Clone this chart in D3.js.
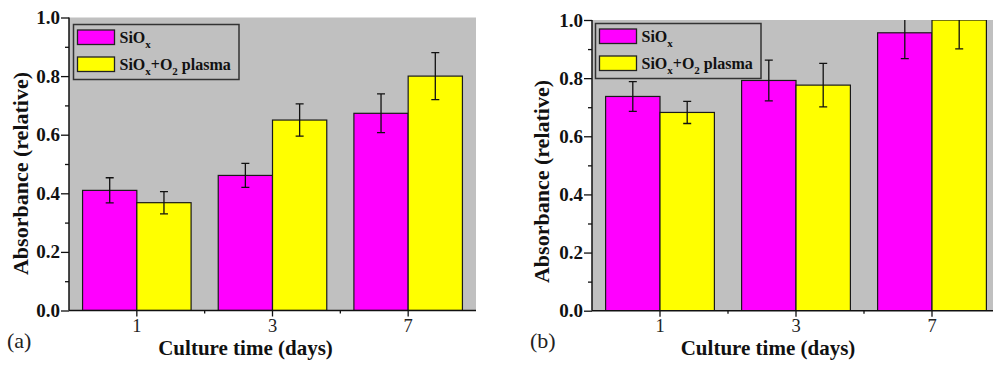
<!DOCTYPE html>
<html>
<head>
<meta charset="utf-8">
<script src="https://cdn.jsdelivr.net/npm/d3@7"></script>
<style>
  html, body { margin: 0; padding: 0; background: #fff; overflow: hidden; }
  svg { display: block; }
</style>
</head>
<body>
<svg id="chart" width="993" height="365"></svg>
<script>
// ---- data ----
const categories = ["1", "3", "7"];
const seriesNames = ["SiOx", "SiOx+O2 plasma"];
const seriesColors = ["#ff00ff", "#ffff00"];
const yTickValues = [0.0, 0.2, 0.4, 0.6, 0.8, 1.0];
const yMinorTickValues = [0.1, 0.3, 0.5, 0.7, 0.9];

const panelA_SiOx = [0.410, 0.461, 0.673];
const panelA_SiOx_err = [0.043, 0.041, 0.066];
const panelA_plasma = [0.368, 0.650, 0.800];
const panelA_plasma_err = [0.038, 0.055, 0.080];

const panelB_SiOx = [0.737, 0.792, 0.956];
const panelB_SiOx_err = [0.051, 0.070, 0.089];
const panelB_plasma = [0.682, 0.776, 1.000];
const panelB_plasma_err = [0.038, 0.075, 0.099];

const svg = d3.select("#chart");
const serif = "'Liberation Serif', 'DejaVu Serif', serif";

function drawPanel(cfg, id) {
  const g = svg.append("g");
  const x = d3.scaleBand().domain(categories).range([cfg.left, cfg.right]).paddingInner(0).paddingOuter(0);
  const y = d3.scaleLinear().domain([0, 1]).range([cfg.bottom, cfg.top]);

  const clipId = "clip" + id;
  svg.append("clipPath").attr("id", clipId).append("rect")
    .attr("x", cfg.left).attr("y", cfg.top)
    .attr("width", cfg.right - cfg.left).attr("height", cfg.bottom - cfg.top);

  // background
  g.append("rect").attr("x", cfg.left).attr("y", cfg.top)
    .attr("width", cfg.right - cfg.left).attr("height", cfg.bottom - cfg.top)
    .attr("fill", "#c0c0c0");

  const inner = d3.scaleBand().domain([0, 1]).range([0, x.bandwidth()]).paddingOuter(0.25).paddingInner(0);
  const series = [cfg.s1, cfg.s2];
  const errs = [cfg.e1, cfg.e2];

  const plot = g.append("g").attr("clip-path", `url(#${clipId})`);
  series.forEach((vals, si) => {
    plot.selectAll(null).data(categories).enter().append("rect")
      .attr("x", (c) => x(c) + inner(si))
      .attr("y", (c, i) => y(vals[i]))
      .attr("width", inner.bandwidth())
      .attr("height", (c, i) => y(0) - y(vals[i]))
      .attr("fill", seriesColors[si])
      .attr("stroke", "#1a1a1a")
      .attr("stroke-width", 1.2);
  });
  series.forEach((vals, si) => {
    categories.forEach((c, i) => {
      const cx = x(c) + inner(si) + inner.bandwidth() / 2;
      const hi = y(vals[i] + errs[si][i]);
      const lo = y(vals[i] - errs[si][i]);
      const eb = plot.append("g").attr("stroke", "#111").attr("stroke-width", 1.3);
      eb.append("line").attr("x1", cx).attr("x2", cx).attr("y1", hi).attr("y2", lo);
      eb.append("line").attr("x1", cx - 4).attr("x2", cx + 4).attr("y1", hi).attr("y2", hi);
      eb.append("line").attr("x1", cx - 4).attr("x2", cx + 4).attr("y1", lo).attr("y2", lo);
    });
  });

  // y axis
  const yAxis = d3.axisLeft(y).tickValues(yTickValues).tickFormat(d3.format(".1f")).tickSize(8).tickPadding(1);
  const ya = g.append("g").attr("transform", `translate(${cfg.left},0)`).call(yAxis);
  ya.select(".domain").remove();
  ya.selectAll(".tick line").attr("stroke", "#111").attr("stroke-width", 1.3);
  ya.selectAll(".tick text").attr("font-family", serif).attr("font-weight", "bold")
    .attr("font-size", 19).attr("fill", "#111");
  const yMinor = d3.axisLeft(y).tickValues(yMinorTickValues).tickSize(4).tickFormat("");
  const ym = g.append("g").attr("transform", `translate(${cfg.left},0)`).call(yMinor);
  ym.select(".domain").remove();
  ym.selectAll(".tick line").attr("stroke", "#111").attr("stroke-width", 1.3);
  g.append("line").attr("x1", cfg.left).attr("x2", cfg.left).attr("y1", cfg.top).attr("y2", cfg.bottom)
    .attr("stroke", "#111").attr("stroke-width", 1.5);

  // x axis
  const xAxis = d3.axisBottom(x).tickSize(6).tickPadding(2);
  const xa = g.append("g").attr("transform", `translate(0,${cfg.bottom})`).call(xAxis);
  xa.select(".domain").remove();
  xa.selectAll(".tick line").attr("stroke", "#111").attr("stroke-width", 1.3);
  xa.selectAll(".tick text").attr("font-family", serif).attr("font-size", 18.5).attr("fill", "#222");
  // minor x ticks at band boundaries
  const boundaries = categories.slice(1).map((c) => x(c));
  g.selectAll(null).data(boundaries).enter().append("line")
    .attr("x1", (d) => d).attr("x2", (d) => d)
    .attr("y1", cfg.bottom).attr("y2", cfg.bottom + 3)
    .attr("stroke", "#111").attr("stroke-width", 1.3);
  g.append("line").attr("x1", cfg.left).attr("x2", cfg.right).attr("y1", cfg.bottom).attr("y2", cfg.bottom)
    .attr("stroke", "#111").attr("stroke-width", 1.5);

  // titles
  g.append("text").attr("transform", `translate(${cfg.yTitleX},${cfg.yTitleY}) rotate(-90)`)
    .attr("text-anchor", "middle").attr("dominant-baseline", "central")
    .attr("font-family", serif).attr("font-weight", "bold").attr("font-size", 22).attr("fill", "#111")
    .text("Absorbance (relative)");
  g.append("text").attr("x", cfg.xTitleX).attr("y", 355)
    .attr("text-anchor", "middle")
    .attr("font-family", serif).attr("font-weight", "bold").attr("font-size", 21).attr("fill", "#111")
    .text("Culture time (days)");
  g.append("text").attr("x", cfg.labelX).attr("y", 348)
    .attr("font-family", serif).attr("font-size", 22).attr("fill", "#222")
    .text(cfg.label);

  // legend
  const lg = g.append("g");
  lg.append("rect").attr("x", cfg.lx).attr("y", cfg.ly).attr("width", cfg.lw).attr("height", 55)
    .attr("fill", "none").attr("stroke", "#333").attr("stroke-width", 1.5);
  const rows = [
    [{t: "SiO"}, {t: "x", sub: true}],
    [{t: "SiO"}, {t: "x", sub: true}, {t: "+O"}, {t: "2", sub: true}, {t: " plasma"}]
  ];
  rows.forEach((parts, i) => {
    const ry = cfg.ly + 5.5 + i * 27;
    lg.append("rect").attr("x", cfg.lx + 4).attr("y", ry).attr("width", 37).attr("height", 14.5)
      .attr("fill", seriesColors[i]).attr("stroke", "#222").attr("stroke-width", 1.3);
    const t = lg.append("text").attr("x", cfg.lx + 46).attr("y", ry + 13)
      .attr("font-family", serif).attr("font-weight", "bold").attr("font-size", 16).attr("fill", "#111")
      .attr("xml:space", "preserve");
    parts.forEach((p, j) => {
      const ts = t.append("tspan").text(p.t);
      const prev = j > 0 ? parts[j - 1] : null;
      if (p.sub) ts.attr("font-size", 11).attr("dy", 5);
      else if (prev && prev.sub) ts.attr("dy", -5);
    });
  });
}

drawPanel({
  left: 69, right: 476, top: 17.5, bottom: 310.5,
  s1: panelA_SiOx, e1: panelA_SiOx_err, s2: panelA_plasma, e2: panelA_plasma_err,
  yTitleX: 20, yTitleY: 173.5, xTitleX: 245.5, labelX: 7, label: "(a)",
  lx: 73.5, ly: 24.5, lw: 165.5
}, "a");

drawPanel({
  left: 592, right: 1000, top: 20, bottom: 310.7,
  s1: panelB_SiOx, e1: panelB_SiOx_err, s2: panelB_plasma, e2: panelB_plasma_err,
  yTitleX: 541, yTitleY: 181.5, xTitleX: 768, labelX: 530, label: "(b)",
  lx: 595.5, ly: 23.5, lw: 165.5
}, "b");
</script>
</body>
</html>
